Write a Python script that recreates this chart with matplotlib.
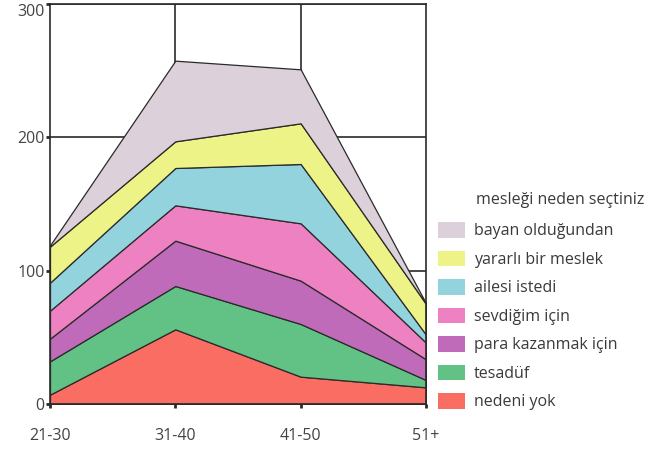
import matplotlib.pyplot as plt
import numpy as np

plt.rcParams['font.family'] = ['Open Sans', 'DejaVu Sans']

age_groups = ['21-30', '31-40', '41-50', '51+']

# series from the bottom of the stack to the top
nedeni_yok = [7, 56, 20.5, 12.5]
tesaduf = [25, 32.5, 39.5, 5.5]
para_kazanmak = [17, 34, 32.5, 15.5]
sevdigim = [21, 26.5, 43, 12.5]
ailesi_istedi = [21, 28, 44.5, 6]
yararli = [27, 20, 30.5, 23]
bayan = [1, 60.5, 40.5, 0.5]

labels = ['nedeni yok', 'tesadüf', 'para kazanmak için', 'sevdiğim için',
          'ailesi istedi', 'yararlı bir meslek', 'bayan olduğundan']
colors = ['#f96d62', '#62c184', '#c06bb9', '#ee81c1', '#93d3de', '#eef387', '#dcd0da']

y_ticks = [0, 100, 200, 300]

fig = plt.figure(figsize=(6.51, 4.5), dpi=100)
ax = fig.add_axes([50 / 651, 1 - 404 / 450, 376 / 651, 400 / 450])

x = np.arange(len(age_groups))
data = [nedeni_yok, tesaduf, para_kazanmak, sevdigim, ailesi_istedi, yararli, bayan]
polys = ax.stackplot(x, *data, colors=colors, labels=labels,
                     edgecolor='#2a2a2a', linewidth=0.9, zorder=3)

# black grid behind the areas
for yv in y_ticks[1:]:
    ax.axhline(yv, color='#2a2a2a', linewidth=1.2, zorder=1)
for xv in x[1:-1]:
    ax.axvline(xv, color='#2a2a2a', linewidth=1.2, zorder=1)

ax.set_xlim(0, 3)
ax.set_ylim(0, 300)
for sp in ax.spines.values():
    sp.set_color('#2a2a2a')
    sp.set_linewidth(1.2)
    sp.set_zorder(4)

ax.set_xticks(x)
ax.set_xticklabels(age_groups)
ax.set_yticks(y_ticks)
ax.tick_params(axis='both', colors='#2a2a2a', labelcolor='#444444',
               labelsize=11.5, length=3, width=2)
ax.tick_params(axis='x', pad=14)
ax.tick_params(axis='y', pad=1)
# top label sits just below the top edge
ax.get_yticklabels()[-1].set_verticalalignment('top')

fig.text(476 / 651, 1 - 200 / 450, 'mesleği neden seçtiniz', fontsize=11.5,
         color='#3a3a3a', ha='left', va='center')

handles, labs = ax.get_legend_handles_labels()
leg = fig.legend(handles[::-1], labs[::-1],
                 loc='upper left', bbox_to_anchor=(430 / 651, 1 - 214 / 450),
                 frameon=False, fontsize=11.5,
                 handlelength=1.7, handleheight=1.15, handletextpad=0.55,
                 labelspacing=0.7, borderpad=0)
for t in leg.get_texts():
    t.set_color('#3a3a3a')
for h in leg.legend_handles:
    h.set_edgecolor('none')

fig.savefig('out.png', dpi=100)
